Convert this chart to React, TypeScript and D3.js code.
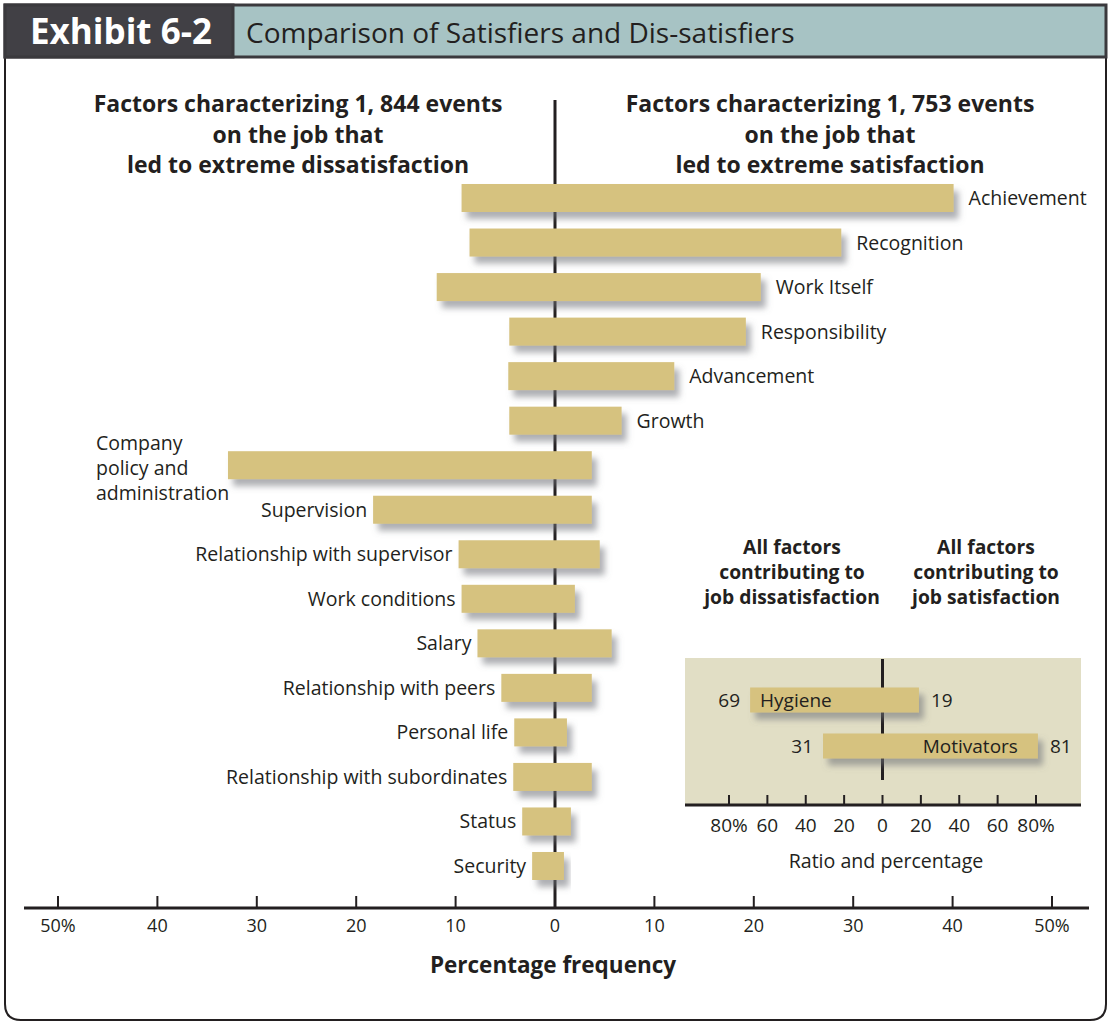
import React from 'react';
import * as d3 from 'd3';

const categories = [
  'Achievement',
  'Recognition',
  'Work Itself',
  'Responsibility',
  'Advancement',
  'Growth',
  'Company policy and administration',
  'Supervision',
  'Relationship with supervisor',
  'Work conditions',
  'Salary',
  'Relationship with peers',
  'Personal life',
  'Relationship with subordinates',
  'Status',
  'Security'
];
// percentage of events (left: dissatisfaction, right: satisfaction)
const dissatisfiers = [9.4, 8.6, 11.9, 4.6, 4.7, 4.6, 32.9, 18.3, 9.7, 9.4, 7.8, 5.4, 4.1, 4.2, 3.3, 2.3];
const satisfiers = [40.1, 28.8, 20.7, 19.2, 12.0, 6.7, 3.7, 3.7, 4.5, 2.0, 5.7, 3.7, 1.2, 3.7, 1.6, 0.9];
const motivatorCount = 6; // first six labelled on the right
const ticks = [-50, -40, -30, -20, -10, 0, 10, 20, 30, 40, 50];

const insetCategories = ['Hygiene', 'Motivators'];
const insetDissat = [69, 31];
const insetSat = [19, 81];
const insetTicks = [-80, -60, -40, -20, 0, 20, 40, 60, 80];

const W = 1110;
const H = 1024;
const INK = '#231f20';
const BAR = '#d6c27f';
const FONT = "'Open Sans', 'Noto Sans', sans-serif";

const tickLabel = (v: number, ends: number[]) =>
  ends.includes(Math.abs(v)) ? `${Math.abs(v)}%` : `${Math.abs(v)}`;

export default function App() {
  const x = d3.scaleLinear().domain([-50, 50]).range([58, 1052]);
  const y = d3.scalePoint<string>().domain(categories).range([198, 866]);
  const barH = 28;

  const xi = d3.scaleLinear().domain([-80, 80]).range([729, 1036]);
  const yi = d3.scalePoint<string>().domain(insetCategories).range([700, 746]);
  const barHi = 25;

  return (
    <svg
      width={W}
      height={H}
      style={{ position: 'absolute', left: 0, top: 0, display: 'block' }}
      fontFamily={FONT}
    >
      <defs>
        <filter id="shadow" x="-10%" y="-30%" width="130%" height="190%">
          <feDropShadow dx="5" dy="7" stdDeviation="3" floodColor="#6d6e75" floodOpacity="0.55" />
        </filter>
      </defs>
      <rect width={W} height={H} fill="#fff" />

      {/* frame */}
      <path
        d="M5,57 L5,1004 Q5,1020 21,1020 L1090,1020 Q1106,1020 1106,1004 L1106,57"
        fill="none"
        stroke={INK}
        strokeWidth={2}
      />
      <rect x={5} y={5} width={1101} height={52} fill="#a7c3c4" stroke="#3a393d" strokeWidth={3} />
      <rect x={5} y={5} width={228} height={52} fill="#414045" stroke="#3a393d" strokeWidth={3} />
      <text x={30} y={44} fill="#fff" fontSize={35} fontWeight={700}>
        Exhibit 6-2
      </text>
      <text x={246} y={43} fill={INK} fontSize={28}>
        Comparison of Satisfiers and Dis-satisfiers
      </text>

      {/* main headers */}
      <g fontSize={23} fontWeight={700} fill={INK} textAnchor="middle">
        {['Factors characterizing 1, 844 events', 'on the job that', 'led to extreme dissatisfaction'].map((t, i) => (
          <text key={t} x={298} y={112 + i * 30.5}>
            {t}
          </text>
        ))}
        {['Factors characterizing 1, 753 events', 'on the job that', 'led to extreme satisfaction'].map((t, i) => (
          <text key={t} x={830} y={112 + i * 30.5}>
            {t}
          </text>
        ))}
      </g>

      {/* centre line */}
      <line x1={x(0)} x2={x(0)} y1={100} y2={908} stroke={INK} strokeWidth={3} />

      {/* bars */}
      <g>
        {categories.map((c, i) => (
          <rect
            key={c}
            x={x(-dissatisfiers[i])}
            y={y(c)! - barH / 2}
            width={x(satisfiers[i]) - x(-dissatisfiers[i])}
            height={barH}
            fill={BAR}
            filter="url(#shadow)"
          />
        ))}
      </g>

      {/* category labels */}
      <g fontSize={19.5} fill={INK}>
        {categories.map((c, i) => {
          const cy = y(c)! + 7;
          if (i < motivatorCount) {
            return (
              <text key={c} x={x(satisfiers[i]) + 15} y={cy}>
                {c}
              </text>
            );
          }
          if (c.startsWith('Company')) {
            return (
              <text key={c} x={96} y={y(c)! - 15}>
                {['Company', 'policy and', 'administration'].map((t, k) => (
                  <tspan key={t} x={96} dy={k === 0 ? 0 : 25}>
                    {t}
                  </tspan>
                ))}
              </text>
            );
          }
          return (
            <text key={c} x={x(-dissatisfiers[i]) - 6} y={cy} textAnchor="end">
              {c}
            </text>
          );
        })}
      </g>

      {/* main axis */}
      <line x1={24} x2={1089} y1={908} y2={908} stroke={INK} strokeWidth={3} />
      <g fontSize={18} fill={INK} textAnchor="middle">
        {ticks.map((t) => (
          <g key={t}>
            <line x1={x(t)} x2={x(t)} y1={896} y2={908} stroke={INK} strokeWidth={2} />
            <text x={x(t)} y={932}>
              {tickLabel(t, [50])}
            </text>
          </g>
        ))}
      </g>
      <text x={553} y={973} textAnchor="middle" fontWeight={700} fontSize={22.5} fill={INK}>
        Percentage frequency
      </text>

      {/* inset */}
      <g fontSize={19.3} fontWeight={700} fill={INK} textAnchor="middle">
        {['All factors', 'contributing to', 'job dissatisfaction'].map((t, i) => (
          <text key={t} x={792} y={554 + i * 25}>
            {t}
          </text>
        ))}
        {['All factors', 'contributing to', 'job satisfaction'].map((t, i) => (
          <text key={t} x={986} y={554 + i * 25}>
            {t}
          </text>
        ))}
      </g>
      <rect x={685} y={658} width={396} height={148} fill="#e1dec5" />
      <line x1={xi(0)} x2={xi(0)} y1={659} y2={780} stroke={INK} strokeWidth={3} />
      {insetCategories.map((c, i) => (
        <rect
          key={c}
          x={xi(-insetDissat[i])}
          y={yi(c)! - barHi / 2}
          width={xi(insetSat[i]) - xi(-insetDissat[i])}
          height={barHi}
          fill={BAR}
          filter="url(#shadow)"
        />
      ))}
      <g fontSize={19} fill={INK}>
        {insetCategories.map((c, i) => {
          const cy = yi(c)! + 7;
          const left = xi(-insetDissat[i]);
          const right = xi(insetSat[i]);
          return (
            <g key={c}>
              <text x={left - 10} y={cy} textAnchor="end">
                {insetDissat[i]}
              </text>
              {i === 0 ? (
                <text x={left + 10} y={cy}>
                  {c}
                </text>
              ) : (
                <text x={right - 20} y={cy} textAnchor="end">
                  {c}
                </text>
              )}
              <text x={right + 12} y={cy}>
                {insetSat[i]}
              </text>
            </g>
          );
        })}
      </g>
      <line x1={685} x2={1081} y1={805} y2={805} stroke={INK} strokeWidth={3} />
      <g fontSize={19} fill={INK} textAnchor="middle">
        {insetTicks.map((t) => (
          <g key={t}>
            <line x1={xi(t)} x2={xi(t)} y1={795} y2={805} stroke={INK} strokeWidth={2} />
            <text x={xi(t)} y={832}>
              {tickLabel(t, [80])}
            </text>
          </g>
        ))}
        <text x={886} y={868} fontSize={19.6}>
          Ratio and percentage
        </text>
      </g>
    </svg>
  );
}
